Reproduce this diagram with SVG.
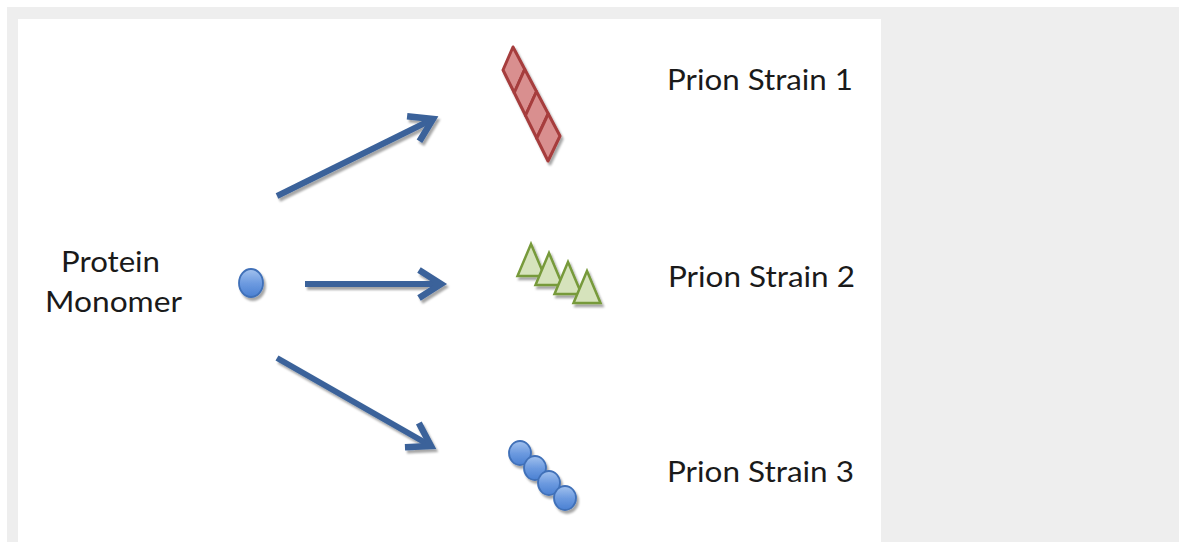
<svg xmlns="http://www.w3.org/2000/svg" width="1187" height="542" viewBox="0 0 1187 542">
  <style>
    .label { font-family: Lato, "Liberation Sans", sans-serif; font-size: 29px; fill: #1a1a1a; }
    .arrow { fill: none; stroke: #3b629a; stroke-width: 6; stroke-linejoin: miter; stroke-linecap: butt; }
    .diamond { fill: #d98f8f; stroke: #a63c3c; stroke-width: 3; stroke-linejoin: round; }
    .tri { fill: #d6e3bc; stroke: #779a3b; stroke-width: 2.5; stroke-linejoin: miter; }
    .bead { fill: url(#beadFill); stroke: #3f70b8; stroke-width: 1.8; }
  </style>
  <defs>
    <linearGradient id="beadFill" x1="0" y1="0" x2="0" y2="1">
      <stop offset="0" stop-color="#a3c2ee"/>
      <stop offset="0.5" stop-color="#6d9be0"/>
      <stop offset="1" stop-color="#4a80d2"/>
    </linearGradient>
    <filter id="shadow" x="-20%" y="-20%" width="140%" height="140%">
      <feDropShadow dx="2" dy="3" stdDeviation="1.2" flood-color="#000" flood-opacity="0.35"/>
    </filter>
    <marker id="head" markerUnits="userSpaceOnUse" markerWidth="40" markerHeight="40" refX="0" refY="0" viewBox="-30 -20 40 40" orient="auto" overflow="visible">
      <path d="M-22,-14 L0,0 L-22,14" fill="none" stroke="#3b629a" stroke-width="6.5" stroke-linejoin="miter"/>
    </marker>
  </defs>

  <!-- page background -->
  <rect x="7" y="7" width="1172" height="535" fill="#eeeeee"/>
  <rect x="18" y="19" width="863" height="523" fill="#ffffff"/>

  <!-- connectors -->
  <g id="connectors" filter="url(#shadow)">
    <path class="arrow" d="M277,196 L433,119" marker-end="url(#head)"/>
    <path class="arrow" d="M305,284 L441,284" marker-end="url(#head)"/>
    <path class="arrow" d="M277,358 L431,446" marker-end="url(#head)"/>
  </g>

  <!-- source: single monomer -->
  <g id="monomer">
    <ellipse class="bead" cx="251" cy="283" rx="12" ry="14" filter="url(#shadow)"/>
    <text class="label" x="61" y="272" textLength="99" lengthAdjust="spacingAndGlyphs">Protein</text>
    <text class="label" x="45" y="312" textLength="137" lengthAdjust="spacingAndGlyphs">Monomer</text>
  </g>

  <!-- strain 1: stacked rhombi -->
  <g id="strain1">
    <g filter="url(#shadow)">
      <polygon class="diamond" points="513,47 524.75,69.25 514.25,92.75 503,70"/>
      <polygon class="diamond" points="524.75,69.25 536.5,91.5 525.5,115.5 514.25,92.75"/>
      <polygon class="diamond" points="536.5,91.5 548.25,113.75 536.75,138.25 525.5,115.5"/>
      <polygon class="diamond" points="548.25,113.75 560,136 548,161 536.75,138.25"/>
    </g>
    <text class="label" x="667" y="90" textLength="186" lengthAdjust="spacingAndGlyphs">Prion Strain 1</text>
  </g>

  <!-- strain 2: stacked triangles -->
  <g id="strain2">
    <g filter="url(#shadow)">
      <polygon class="tri" points="531,244 544.5,276 517.5,276"/>
      <polygon class="tri" points="549,253 562.5,285 535.5,285"/>
      <polygon class="tri" points="568,262 581.5,294 554.5,294"/>
      <polygon class="tri" points="587,271 600.5,303 573.5,303"/>
    </g>
    <text class="label" x="668" y="287" textLength="187" lengthAdjust="spacingAndGlyphs">Prion Strain 2</text>
  </g>

  <!-- strain 3: chain of beads -->
  <g id="strain3">
    <g filter="url(#shadow)">
      <ellipse class="bead" cx="520" cy="453" rx="11" ry="12"/>
      <ellipse class="bead" cx="535" cy="468" rx="11" ry="12"/>
      <ellipse class="bead" cx="549" cy="483" rx="11" ry="12"/>
      <ellipse class="bead" cx="565" cy="498" rx="11" ry="12"/>
    </g>
    <text class="label" x="667" y="482" textLength="187" lengthAdjust="spacingAndGlyphs">Prion Strain 3</text>
  </g>
</svg>
